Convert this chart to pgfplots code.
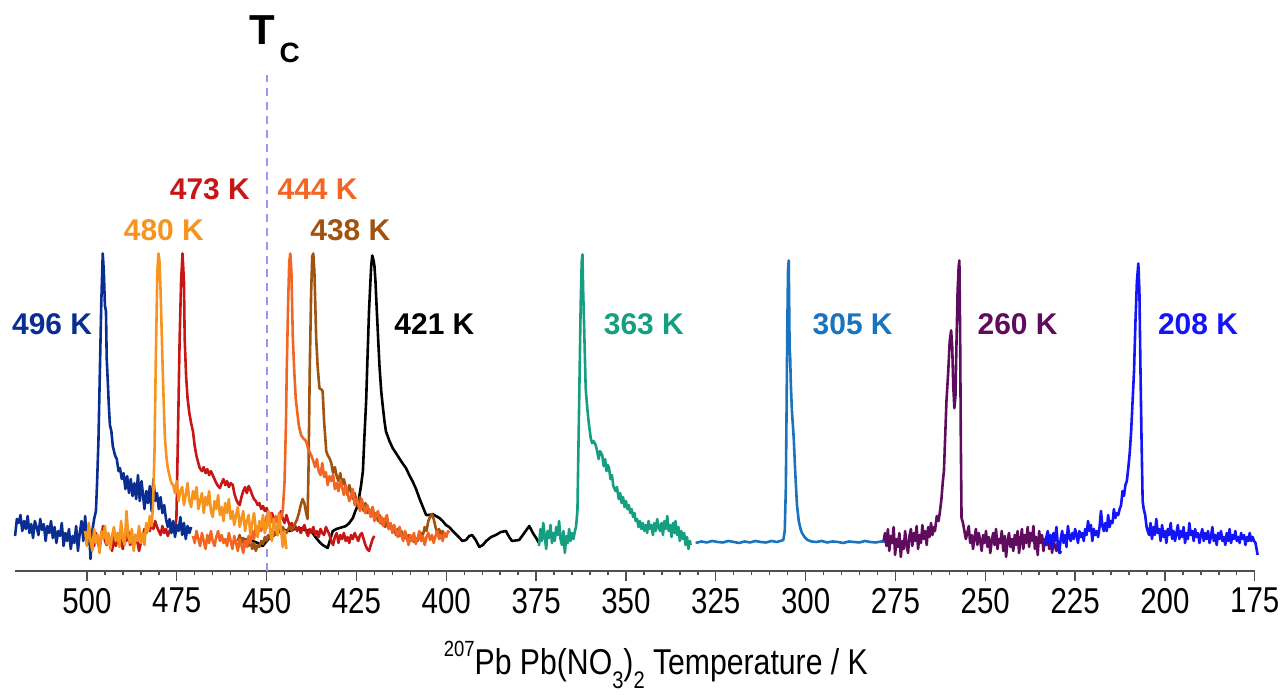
\documentclass[border=0pt]{standalone}
\usepackage{pgfplots}
\pgfplotsset{compat=1.18}
\usepackage{fontspec}
\setmainfont{Liberation Sans}
\definecolor{cA}{RGB}{10,45,145}
\definecolor{cB}{RGB}{247,148,29}
\definecolor{cC}{RGB}{200,22,22}
\definecolor{cD}{RGB}{242,101,34}
\definecolor{cE}{RGB}{160,82,15}
\definecolor{cF}{RGB}{0,0,0}
\definecolor{cG}{RGB}{22,158,128}
\definecolor{cH}{RGB}{25,115,190}
\definecolor{cI}{RGB}{95,12,95}
\definecolor{cJ}{RGB}{20,20,250}
\definecolor{cTc}{RGB}{150,150,255}
\definecolor{axgray}{RGB}{80,80,80}
\newcommand{\sub}[1]{\raisebox{-0.38em}{\fontsize{12}{14}\selectfont #1}}
\begin{document}
\begin{tikzpicture}
\begin{axis}[
  scale only axis, width=621pt, height=276pt,
  xmin=175, xmax=520, x dir=reverse, ymin=0, ymax=552,
  axis x line*=bottom, hide y axis, clip=false,
  axis line style={axgray, line width=0.8pt},
  xtick={175,200,...,500}, minor x tick num=4,
  tick align=outside, major tick length=5pt, minor tick length=2.2pt,
  tick style={axgray, line width=0.7pt},
  xticklabel={\scalebox{0.82}[1]{\fontsize{18}{21}\selectfont\pgfmathprintnumber[assume math mode=true]{\tick}}},
  xlabel={\scalebox{0.84}[1]{\fontsize{18}{21}\selectfont\raisebox{0.5em}{\fontsize{11}{13}\selectfont 207}Pb Pb(NO\sub{3})\sub{2} Temperature / K}},
  xlabel style={at={(axis description cs:0.5,0)}, anchor=center, yshift=-47pt, xshift=10.5pt},
  every axis plot/.append style={line width=1.3pt, line join=round},
]
\path (axis cs:524.2,-115) rectangle (axis cs:167.2,572);
% Tc line
\addplot[cTc, line width=1pt, dash pattern=on 4pt off 3pt] coordinates {(450,0) (450,497)};
% 421 K black
\addplot[cF] coordinates {(457.5,33) (455.6,31) (453.9,30) (452.5,28) (451.1,25) (450.2,29) (449.2,33) (447.5,37) (446.4,43) (445,41) (443.6,40) (442.2,42) (440.8,43) (439.4,41) (438,40) (437.2,38) (436.2,33) (435.3,29) (434.4,26) (433,23) (431.6,40) (430.6,42) (429.7,43) (428.8,44) (427.9,45) (427,48) (426,53) (425.3,60) (424.6,66) (423.7,86) (423.2,100) (422.8,133) (422.3,170) (421.9,216) (421.5,260) (421.2,283) (420.9,305) (420.6,316) (420.3,312) (420,306) (419.7,290) (419.4,266) (419,236) (418.6,206) (418.1,180) (417.7,166) (417.2,150) (416.8,140) (415.8,130) (414.9,123) (414,118) (413.1,113) (412.2,108) (411.2,103) (410.3,96) (409.4,90) (408.4,82) (407.5,73) (406.5,64) (405.6,56) (404.7,56) (403.8,57) (402.9,55) (401.9,53) (401,50) (400.1,46) (399.2,44) (398.2,40) (396.8,35) (395.5,30) (394.5,31) (393.6,35) (392.8,36) (391.8,31) (390.8,24) (389.8,26) (388.9,30) (387.5,34) (386.2,36) (384.8,39) (383.4,40) (382.5,34) (381.7,30) (379.7,31) (378.3,38) (376.9,45) (375.9,38) (375,33) (374.2,28)};
% 473 K red
\addplot[cC] coordinates {(500,35) (499.5,28) (499,40) (498.5,32) (498,25) (497.5,38) (497,30) (496.5,22) (496,35) (495.5,45) (495,30) (494.5,26) (494,36) (493.5,28) (493,20) (492.5,34) (492,25) (491.5,30) (491,38) (490.5,28) (490,22) (489.5,35) (489,30) (488.5,40) (488,26) (487.5,32) (487,24) (486.5,36) (486,30) (485.5,20) (485,28) (484.5,35) (484,42) (483.5,38) (483,45) (482.5,40) (482,48) (481.5,42) (481,50) (480.5,44) (480,40) (479.5,36) (479,45) (478.5,38) (478,42) (477.5,35) (477,40) (476.5,45) (476,48) (475.5,42) (475.1,53) (474.7,130) (474.2,233) (473.8,290) (473.4,318) (473.0,290) (472.8,233) (472.4,195) (472,173) (471.5,158) (471,148) (470.5,140) (470,125) (469.5,115) (469,108) (468.6,103) (468,100) (467.5,104) (467,98) (466.5,102) (466,96) (465.5,100) (465,96) (464.5,92) (464,88) (463.5,85) (463,83) (462.5,88) (462,92) (461.5,86) (461,90) (460.5,84) (460,88) (459.4,86) (459,78) (458.5,72) (458,68) (457.5,66) (457,74) (456.5,80) (456,84) (455.5,78) (455,85) (454.7,83) (454,76) (453.5,72) (453,70) (452.5,66) (452,68) (451.5,62) (451,65) (450.5,60) (450,63) (449.5,58) (449,55) (448.5,58) (448,52) (447.2,50) (446.5,55) (446,60) (445.5,52) (445,48) (444.5,56) (444,50) (443.5,44) (443,48) (442.5,42) (442,45) (441.5,40) (441,44) (440.5,38) (440,42) (439.5,46) (439,40) (438.5,35) (438,42) (437.5,38) (437,44) (436.5,36) (436,40) (435.5,34) (435,42) (434.5,38) (434,36) (433.5,44) (433,40) (432.5,36) (432,30) (431.5,26) (431,34) (430.5,38) (430,28) (429.5,36) (429,32) (428.5,38) (428,30) (427.5,34) (427,28) (426.5,36) (426,32) (425.5,38) (425,34) (424.5,30) (424,36) (423.5,38) (423,32) (422.5,26) (422,22) (421.5,20) (421,26) (420.5,32) (420,35)};
% 438 K brown
\addplot[cE] coordinates {(458,30) (457.5,36) (457,28) (456.5,33) (456,26) (455.5,32) (455,25) (454.5,30) (454,22) (453.5,28) (453,20) (452.5,26) (452,24) (451.5,30) (451,27) (450.5,34) (450,30) (449.5,36) (449,32) (448.5,38) (448,35) (447.5,40) (447,36) (446.5,42) (446,38) (445.5,44) (445,40) (444.5,38) (444,42) (443.5,45) (443,40) (442.5,44) (442,48) (441.5,52) (441,58) (440.5,66) (440,72) (439.5,68) (439,58) (438.6,52) (438.3,110) (438,200) (437.6,280) (437.3,315) (437.0,318) (436.7,300) (436.4,260) (436.2,233) (435.8,205) (435.3,183) (434.8,182) (434.4,180) (434,150) (433.4,120) (433,116) (432.5,113) (432,108) (431.5,98) (431,104) (430.5,95) (430,90) (429.5,98) (429,86) (428.5,92) (428,84) (427.5,76) (427,86) (426.5,80) (426,72) (425.5,78) (425,70) (424.5,64) (424,74) (423.5,66) (423,60) (422.5,68) (422,58) (421.5,62) (421,55) (420.5,64) (420,52) (419.5,58) (419,50) (418.5,56) (418,47) (417.5,52) (417,44) (416.5,50) (416,42) (415.5,47) (415,40) (414.5,44) (414,36) (413.5,42) (413,35) (412.5,40) (412,33) (411.5,38) (411,32) (410.5,36) (410,30) (409.5,34) (409,29) (408.5,33) (408,30) (407.5,34) (407,38) (406.5,36) (406,44) (405.5,40) (405,50) (404.5,54) (404,57) (403.5,52) (403,44) (402.5,38) (402,42) (401.5,36) (401,40) (400.5,35) (400,38)};
% 496 K dark blue
\addplot[cA] coordinates {(520,35) (519.5,52) (519,48) (518.5,56) (518,40) (517.5,50) (517,42) (516.5,55) (516,38) (515.5,47) (515,33) (514.5,50) (514,44) (513.5,36) (513,52) (512.5,41) (512,47) (511.5,30) (511,45) (510.5,38) (510,50) (509.5,33) (509,44) (508.5,28) (508,40) (507.5,35) (507,48) (506.5,25) (506,38) (505.5,30) (505,42) (504.5,22) (504,35) (503.5,28) (503,45) (502.5,20) (502,38) (501.5,50) (501,30) (500.5,55) (500,26) (499.5,46) (499,12) (498.5,40) (498,52) (497.5,60) (497.2,86) (496.8,130) (496.4,200) (496.0,270) (495.6,318) (495.3,300) (495.0,266) (494.7,260) (494.5,213) (494.2,190) (493.9,165) (493.6,146) (493.2,140) (492.8,125) (492.2,116) (491.7,112) (491.2,100) (490.8,103) (490.3,92) (489.8,98) (489.3,82) (488.8,95) (488.3,78) (487.8,92) (487.3,75) (486.8,88) (486.3,72) (485.8,96) (485.3,70) (484.8,90) (484.4,76) (484,62) (483.5,80) (483,68) (482.5,85) (482,60) (481.5,92) (481,70) (480.5,78) (480,62) (479.5,74) (479,58) (478.5,66) (478,52) (477.5,44) (477,52) (476.5,38) (476,50) (475.5,34) (475,46) (474.5,40) (474,54) (473.5,36) (473,48) (472.5,32) (472,45) (471.5,38) (471,44)};
% 444 K orange-red
\addplot[cD] coordinates {(470.5,35) (470,28) (469.5,40) (469,32) (468.5,25) (468,38) (467.5,30) (467,22) (466.5,36) (466,28) (465.5,40) (465,30) (464.5,25) (464,34) (463.5,40) (463,30) (462.5,36) (462,28) (461.5,32) (461,25) (460.5,38) (460,30) (459.5,22) (459,35) (458.5,28) (458,20) (457.5,32) (457,26) (456.5,18) (456,30) (455.5,24) (455,35) (454.5,28) (454,40) (453.5,32) (453,45) (452.5,36) (452,48) (451.5,40) (451,52) (450.5,44) (450,55) (449.5,46) (449,58) (448.5,50) (448,45) (447.5,55) (447,48) (446.5,58) (446,52) (445.5,60) (445,90) (444.6,150) (444.4,200) (444,270) (443.7,310) (443.4,318) (443.1,300) (442.7,233) (442.3,200) (441.9,173) (441.5,160) (441,145) (440.4,136) (439.8,133) (439,130) (438.4,122) (437.6,116) (437,110) (436.5,104) (436,112) (435.5,100) (435,96) (434.5,108) (434,94) (433.5,99) (433,86) (432.5,95) (432,90) (431.5,97) (431,82) (430.5,88) (430,80) (429.5,91) (429,84) (428.5,76) (428,86) (427.5,79) (427,70) (426.5,74) (426,82) (425.5,66) (425,72) (424.5,68) (424,60) (423.5,72) (423,64) (422.5,58) (422,66) (421.5,61) (421,54) (420.5,64) (420,50) (419.5,56) (419,60) (418.5,48) (418,54) (417.5,45) (417,52) (416.5,56) (416,42) (415.5,48) (415,38) (414.5,46) (414,40) (413.5,34) (413,44) (412.5,36) (412,30) (411.5,40) (411,34) (410.5,26) (410,36) (409.5,30) (409,38) (408.5,27) (408,32) (407.5,40) (407,30) (406.5,35) (406,26) (405.5,34) (405,38) (404.5,31) (404,36) (403.5,28) (403,35) (402.5,40) (402,32) (401.5,36) (401,30) (400.5,38) (400,34) (399.5,40) (399.2,38)};
% 480 K orange
\addplot[cB] coordinates {(500.5,40) (500,25) (499.5,48) (499,30) (498.5,20) (498,42) (497.5,28) (497,36) (496.5,18) (496,40) (495.5,32) (495,45) (494.5,27) (494,38) (493.5,22) (493,35) (492.5,44) (492,30) (491.5,38) (491,24) (490.5,50) (490,33) (489.5,26) (489,60) (488.5,35) (488,28) (487.5,42) (487,20) (486.5,36) (486,30) (485.5,45) (485,28) (484.5,38) (484,26) (483.5,48) (483,40) (482.5,55) (482,45) (481.6,66) (481.2,120) (480.8,220) (480.4,300) (480.1,318) (479.8,310) (479.5,280) (479.2,240) (478.9,200) (478.6,165) (478.3,133) (477.9,115) (477.5,103) (477,95) (476.5,88) (476,86) (475.5,78) (475,90) (474.5,70) (474,80) (473.5,84) (473,66) (472.5,76) (472,88) (471.5,70) (471,64) (470.5,80) (470,72) (469.5,84) (469,62) (468.5,70) (468,78) (467.5,58) (467,74) (466.5,66) (466,80) (465.5,60) (465,54) (464.5,70) (464,62) (463.5,76) (463,56) (462.5,64) (462,50) (461.5,68) (461,58) (460.5,72) (460,52) (459.5,60) (459,46) (458.5,56) (458,64) (457.5,44) (457,52) (456.5,60) (456,40) (455.5,50) (455,56) (454.5,36) (454,48) (453.5,58) (453,42) (452.5,34) (452,50) (451.5,44) (451,56) (450.5,38) (450,46) (449.5,60) (449,40) (448.5,30) (448,52) (447.5,44) (447,36) (446.5,56) (446,42) (445.5,24) (445,40) (444.5,22)};
% 363 K teal
\addplot[cG] coordinates {(374.2,25) (373.8,42) (373.4,30) (373,48) (372.6,35) (372.2,22) (371.8,40) (371.4,33) (371,46) (370.6,28) (370.2,38) (369.8,30) (369.4,44) (369,36) (368.6,50) (368.2,32) (367.8,26) (367.4,40) (367,18) (366.6,35) (366.2,28) (365.8,42) (365.4,30) (365,38) (364.6,32) (364.2,40) (363.9,44) (363.5,60) (363.1,150) (362.6,266) (362.3,310) (362.1,317) (361.9,280) (361.6,240) (361.2,183) (360.8,165) (360.4,150) (359.8,133) (359.4,128) (359,130) (358.4,126) (358,120) (357.6,112) (357.2,120) (356.6,116) (356.2,105) (355.8,112) (355.4,100) (355,106) (354.7,103) (354.3,92) (353.9,96) (353.5,85) (352.9,80) (352.5,84) (352,72) (351.6,78) (351.2,68) (350.8,74) (350.4,64) (350,70) (349.6,62) (349.2,66) (348.8,58) (348.4,62) (348,54) (347.6,58) (347.3,50) (346.9,52) (346.5,44) (346.1,50) (345.7,42) (345.3,48) (344.9,40) (344.5,46) (344.1,38) (343.7,50) (343.3,42) (342.9,46) (342.5,36) (342.1,48) (341.7,40) (341.3,52) (340.9,44) (340.5,40) (340.1,48) (339.7,36) (339.3,50) (338.9,42) (338.5,55) (338.1,40) (337.7,46) (337.3,34) (336.9,48) (336.5,38) (336.2,50) (335.8,36) (335.4,44) (335,30) (334.6,40) (334.2,32) (333.8,38) (333.4,26) (333,34) (332.6,22) (332.2,30) (332,26)};
% 305 K blue
\addplot[cH] coordinates {(330.6,28) (329,29.5) (327.5,28.5) (326,30) (324.5,29) (323,28.5) (321.5,30) (320,29) (318.5,28) (317,29.5) (315.5,28.5) (314,30) (312.5,29) (311,28.5) (309.5,30) (308,29) (307,30) (306.2,31) (305.8,40) (305.5,83) (305.3,160) (305.1,240) (304.9,300) (304.7,311) (304.55,260) (304.45,223) (304.3,215) (304.1,186) (303.8,160) (303.3,133) (302.9,100) (302.4,66) (301.9,50) (301.4,42) (301,38) (300.3,34) (299.5,31) (298.3,29.5) (297,29) (295.5,30) (294,28.5) (292.5,29.5) (291,29) (289.5,28) (288,29.5) (286.5,29) (285,28.5) (283.5,30) (282,29) (280.5,28.5) (279,29.5) (277.5,29) (276,28.5) (274.5,29.5) (273.5,29)};
% 260 K purple
\addplot[cI] coordinates {(278.3,30) (277.9,38) (277.5,25) (277.1,42) (276.7,20) (276.3,35) (275.9,28) (275.5,44) (275.1,16) (274.7,32) (274.3,24) (273.9,38) (273.5,14) (273.1,30) (272.7,22) (272.3,40) (271.9,26) (271.5,18) (271.1,35) (270.7,42) (270.3,25) (269.9,38) (269.5,30) (269.1,45) (268.7,22) (268.3,36) (267.9,28) (267.5,46) (267.1,32) (266.7,40) (266.3,26) (265.9,44) (265.5,34) (265.1,48) (264.7,36) (264.3,44) (264,40) (263.5,55) (263,50) (262.6,60) (262.2,72) (261.8,90) (261.5,100) (261.2,130) (260.8,170) (260.3,200) (259.9,230) (259.5,241) (259.2,225) (258.9,185) (258.6,163) (258.3,175) (258,230) (257.7,280) (257.4,305) (257.2,311) (257.0,240) (256.8,130) (256.6,53) (256.2,48) (255.8,40) (255.4,32) (255,38) (254.6,45) (254.2,28) (253.8,36) (253.4,22) (253,34) (252.6,42) (252.2,26) (251.8,38) (251.4,30) (251,20) (250.6,36) (250.2,28) (249.8,40) (249.4,24) (249,34) (248.6,18) (248.2,30) (247.8,38) (247.4,26) (247,42) (246.6,22) (246.2,32) (245.8,28) (245.4,40) (245,20) (244.6,35) (244.2,14) (243.8,30) (243.4,38) (243,24) (242.6,32) (242.2,20) (241.8,36) (241.4,26) (241,40) (240.6,18) (240.2,30) (239.8,42) (239.4,22) (239,36) (238.6,28) (238.2,44) (237.8,24) (237.4,38) (237,30) (236.6,45) (236.2,22) (235.8,34) (235.4,16) (235,40) (234.6,28) (234.2,36) (233.8,20) (233.4,32) (233,26) (232.6,38) (232.2,22) (231.8,34) (231.4,18) (231,30) (230.6,25) (230.2,20) (229.8,28) (229.2,18) (228.9,20)};
% 208 K blue
\addplot[cJ] coordinates {(233.4,26) (233,34) (232.6,40) (232.2,28) (231.8,36) (231.4,22) (231,38) (230.6,30) (230.2,44) (229.8,26) (229.4,18) (229,32) (228.6,40) (228.2,28) (227.8,36) (227.4,24) (227,45) (226.6,34) (226.2,30) (225.8,38) (225.4,32) (225,42) (224.6,36) (224.2,28) (223.8,40) (223.4,34) (223,38) (222.6,30) (222.2,42) (221.8,36) (221.4,50) (221,40) (220.6,46) (220.2,30) (219.8,42) (219.4,36) (219,40) (218.6,34) (218.2,44) (217.8,60) (217.4,45) (217,40) (216.6,48) (216.2,40) (215.8,56) (215.4,44) (215,50) (214.6,48) (214.2,62) (213.8,53) (213.4,58) (213,56) (212.6,62) (212.2,66) (211.8,80) (211.4,75) (211,86) (210.6,90) (210.2,103) (209.8,118) (209.4,140) (209,170) (208.6,200) (208.2,250) (207.8,290) (207.4,308) (207.1,280) (206.8,200) (206.5,130) (206.2,70) (205.9,62) (205.5,56) (205.1,44) (204.8,40) (204.4,36) (204,48) (203.6,32) (203.2,44) (202.8,36) (202.4,52) (202,38) (201.6,42) (201.2,30) (200.8,46) (200.4,34) (200,40) (199.6,28) (199.2,42) (198.8,36) (198.4,48) (198,32) (197.6,40) (197.2,30) (196.8,38) (196.4,46) (196,32) (195.6,40) (195.2,34) (194.8,44) (194.4,28) (194,38) (193.6,32) (193.2,48) (192.8,36) (192.4,40) (192,30) (191.6,42) (191.2,34) (190.8,38) (190.4,28) (190,36) (189.6,42) (189.2,30) (188.8,38) (188.4,32) (188,40) (187.6,28) (187.2,34) (186.8,44) (186.4,30) (186,36) (185.6,26) (185.2,38) (184.8,32) (184.4,40) (184,30) (183.6,34) (183.2,26) (182.8,38) (182.4,30) (182,42) (181.6,28) (181.2,36) (180.8,32) (180.4,40) (180,30) (179.6,34) (179.2,28) (178.8,38) (178.4,32) (178,36) (177.6,26) (177.2,34) (176.8,30) (176.4,38) (176,30) (175.6,34) (175.2,30) (174.8,28) (174.5,22) (174.2,16)};
% labels
\tikzset{lab/.style={font=\fontsize{15}{18}\selectfont\bfseries, anchor=center, inner sep=0pt}}
\node[lab, text=cA] at (axis cs:509.7,247) {496 K};
\node[lab, text=cB] at (axis cs:478.6,341) {480 K};
\node[lab, text=cC] at (axis cs:465.8,382) {473 K};
\node[lab, text=cD] at (axis cs:435.8,382) {444 K};
\node[lab, text=cE] at (axis cs:426.7,341) {438 K};
\node[lab, text=cF] at (axis cs:403.3,247) {421 K};
\node[lab, text=cG] at (axis cs:345,247) {363 K};
\node[lab, text=cH] at (axis cs:286.9,247) {305 K};
\node[lab, text=cI] at (axis cs:241.0,247) {260 K};
\node[lab, text=cJ] at (axis cs:190.8,247) {208 K};
\node[anchor=base west, inner sep=0pt, font=\fontsize{21}{24}\selectfont\bfseries] at (axis cs:455.0,527) {T\kern2.5pt\raisebox{-9pt}{\fontsize{14}{16}\selectfont C}};
\end{axis}
\end{tikzpicture}
\end{document}
